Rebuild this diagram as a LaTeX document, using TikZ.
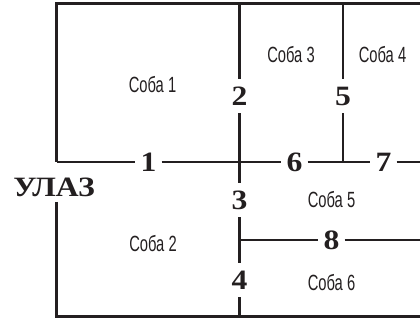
\documentclass[tikz,border=0pt]{standalone}
\usepackage{fontspec}
\setmainfont{Liberation Serif}
\newfontfamily\condsans[FakeStretch=0.67]{Liberation Sans}
\newfontfamily\widebold[FakeStretch=1.13]{Liberation Serif}
\definecolor{ink}{RGB}{35,31,32}
\begin{document}
\begin{tikzpicture}[x=1pt,y=-1pt,
  wall/.style={line width=2.5pt, draw=ink},
  door/.style={inner sep=0pt, minimum width=26pt, minimum height=34pt,
    font=\widebold\fontsize{28}{28}\selectfont\bfseries, text=ink},
  room/.style={inner sep=0pt, font=\condsans\fontsize{22}{22}\selectfont, text=ink},
  entrylabel/.style={inner sep=0pt, font=\widebold\fontsize{28}{28}\selectfont\bfseries, text=ink}]
\useasboundingbox (0,0) rectangle (420,320);
% corner and wall coordinates
\coordinate (mid0) at (56.5,162);
\coordinate (tl) at (56.5,3.7);
\coordinate (tr) at (420,3.7);
\coordinate (lw) at (56.5,202);
\coordinate (bl) at (56.5,316.5);
\coordinate (br) at (420,316.5);
\coordinate (midR) at (420,162);
\coordinate (topA) at (239.5,3.7);
\coordinate (botA) at (239.5,316.5);
\coordinate (topB) at (343,3.7);
\coordinate (midB) at (343,162);
\coordinate (junc8) at (239.5,240);
\coordinate (right8) at (420,240);
% door labels
\node[door] (d1) at (148.5,162) {1};
\node[door] (d2) at (239.5,96) {2};
\node[door] (d3) at (239.5,200) {3};
\node[door] (d4) at (239.5,280) {4};
\node[door] (d5) at (343,96) {5};
\node[door] (d6) at (294.5,162) {6};
\node[door] (d7) at (383.5,162) {7};
\node[door] (d8) at (331.5,240) {8};
% entry
\node[entrylabel] (entry) at (54,187) {УЛАЗ};
% rooms
\node[room] (r1) at (152.5,85) {Соба 1};
\node[room] (r2) at (153,244) {Соба 2};
\node[room] (r3) at (291,54.5) {Соба 3};
\node[room] (r4) at (382.5,54.5) {Соба 4};
\node[room] (r5) at (331.5,200) {Соба 5};
\node[room] (r6) at (331.5,282.5) {Соба 6};
% walls
\draw[wall] (mid0) -- (tl) -- (tr);
\draw[wall] (lw) -- (bl) -- (br);
\draw[wall] (mid0) -- (d1) -- (d6) -- (d7) -- (midR);
\draw[wall] (topA) -- (d2) -- (d3) -- (d4) -- (botA);
\draw[wall] (topB) -- (d5) -- (midB);
\draw[wall] (junc8) -- (d8) -- (right8);
\end{tikzpicture}
\end{document}
